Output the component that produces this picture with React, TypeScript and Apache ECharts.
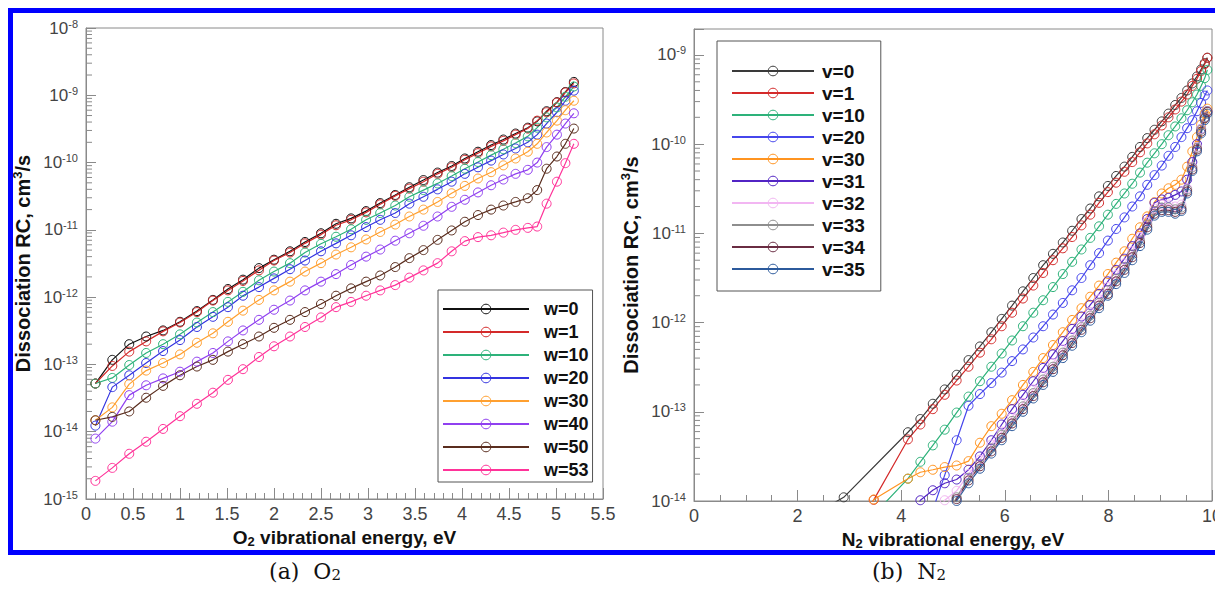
import { useEffect, useRef } from 'react';
import * as echarts from 'echarts';

const SANS = '"Liberation Sans", Arial, Helvetica, sans-serif';
const SERIF = '"DejaVu Serif", "Liberation Serif", serif';

// ---------- (a) O2 ----------
const O2_ENERGY = [0.10, 0.28, 0.46, 0.64, 0.82, 1.00, 1.18, 1.35, 1.51, 1.67, 1.84, 2.00, 2.17, 2.33, 2.50, 2.66, 2.82, 2.98, 3.13, 3.29, 3.44, 3.59, 3.74, 3.89, 4.03, 4.17, 4.31, 4.44, 4.57, 4.70, 4.80, 4.90, 5.01, 5.10, 5.19];
const O2_W0 = [5.2e-14, 1.17e-13, 2.0e-13, 2.6e-13, 3.2e-13, 4.3e-13, 6.2e-13, 9.1e-13, 1.32e-12, 1.82e-12, 2.7e-12, 3.6e-12, 4.8e-12, 6.6e-12, 8.9e-12, 1.23e-11, 1.48e-11, 1.9e-11, 2.5e-11, 3.3e-11, 4.3e-11, 5.5e-11, 7.1e-11, 8.9e-11, 1.15e-10, 1.45e-10, 1.82e-10, 2.2e-10, 2.7e-10, 3.3e-10, 4.1e-10, 5.8e-10, 7.9e-10, 1.12e-9, 1.58e-9];
const O2_W1 = [5.2e-14, 9.5e-14, 1.55e-13, 2.2e-13, 3.1e-13, 4.2e-13, 6.0e-13, 8.9e-13, 1.26e-12, 1.74e-12, 2.5e-12, 3.5e-12, 4.6e-12, 6.3e-12, 8.5e-12, 1.17e-11, 1.41e-11, 1.82e-11, 2.4e-11, 3.2e-11, 4.1e-11, 5.2e-11, 6.8e-11, 8.5e-11, 1.1e-10, 1.38e-10, 1.74e-10, 2.1e-10, 2.6e-10, 3.2e-10, 4.2e-10, 5.6e-10, 7.8e-10, 1.1e-9, 1.5e-9];
const O2_W10 = [5.2e-14, 6.3e-14, 9.8e-14, 1.48e-13, 2.0e-13, 2.8e-13, 4.2e-13, 6.0e-13, 8.5e-13, 1.2e-12, 1.78e-12, 2.4e-12, 3.2e-12, 4.6e-12, 6.2e-12, 7.9e-12, 1.02e-11, 1.41e-11, 1.78e-11, 2.3e-11, 3.1e-11, 3.9e-11, 4.9e-11, 6.3e-11, 8.1e-11, 1.02e-10, 1.29e-10, 1.58e-10, 1.95e-10, 2.45e-10, 3.3e-10, 4.7e-10, 6.6e-10, 9.5e-10, 1.35e-9];
const O2_W20 = [1.23e-14, 4.6e-14, 6.9e-14, 1.05e-13, 1.58e-13, 2.3e-13, 3.6e-13, 5.1e-13, 7.1e-13, 1.05e-12, 1.41e-12, 1.9e-12, 2.6e-12, 3.5e-12, 4.8e-12, 6.3e-12, 8.3e-12, 1.1e-11, 1.41e-11, 1.78e-11, 2.45e-11, 3.1e-11, 4.0e-11, 5.2e-11, 6.8e-11, 8.5e-11, 1.07e-10, 1.32e-10, 1.62e-10, 2.0e-10, 2.6e-10, 3.8e-10, 5.6e-10, 8.3e-10, 1.17e-9];
const O2_W30 = [1.48e-14, 2.3e-14, 5.1e-14, 8.1e-14, 1.05e-13, 1.41e-13, 2.1e-13, 2.9e-13, 4.3e-13, 6.3e-13, 9.1e-13, 1.26e-12, 1.7e-12, 2.4e-12, 3.2e-12, 4.3e-12, 5.5e-12, 7.2e-12, 9.3e-12, 1.2e-11, 1.58e-11, 2.0e-11, 2.6e-11, 3.5e-11, 4.5e-11, 5.8e-11, 7.2e-11, 9.1e-11, 1.15e-10, 1.45e-10, 1.9e-10, 2.8e-10, 4.2e-10, 6.0e-10, 8.3e-10];
const O2_W40 = [7.9e-15, 1.41e-14, 3.5e-14, 4.9e-14, 6.2e-14, 7.8e-14, 1.1e-13, 1.48e-13, 2.2e-13, 3.2e-13, 4.6e-13, 6.5e-13, 8.9e-13, 1.26e-12, 1.7e-12, 2.2e-12, 3.0e-12, 4.0e-12, 5.1e-12, 6.9e-12, 8.9e-12, 1.15e-11, 1.58e-11, 2.2e-11, 2.8e-11, 3.6e-11, 4.6e-11, 5.6e-11, 6.8e-11, 7.8e-11, 1.0e-10, 1.7e-10, 2.6e-10, 3.8e-10, 5.4e-10];
const O2_W50 = [1.48e-14, 1.66e-14, 2.0e-14, 3.2e-14, 4.8e-14, 6.9e-14, 9.3e-14, 1.17e-13, 1.55e-13, 2.0e-13, 2.6e-13, 3.5e-13, 4.6e-13, 6.0e-13, 7.9e-13, 1.05e-12, 1.35e-12, 1.7e-12, 2.1e-12, 2.8e-12, 3.8e-12, 5.0e-12, 7.1e-12, 9.8e-12, 1.32e-11, 1.66e-11, 2.0e-11, 2.3e-11, 2.6e-11, 2.95e-11, 3.9e-11, 8.1e-11, 1.23e-10, 1.9e-10, 3.2e-10];
const O2_W53 = [1.86e-15, 2.9e-15, 4.7e-15, 7.1e-15, 1.1e-14, 1.7e-14, 2.6e-14, 3.8e-14, 5.9e-14, 8.5e-14, 1.29e-13, 1.86e-13, 2.6e-13, 3.6e-13, 5.0e-13, 7.1e-13, 8.5e-13, 1.05e-12, 1.26e-12, 1.51e-12, 1.95e-12, 2.5e-12, 3.2e-12, 4.8e-12, 6.8e-12, 7.8e-12, 8.3e-12, 9.1e-12, 1.0e-11, 1.07e-11, 1.12e-11, 2.45e-11, 5.2e-11, 9.8e-11, 1.9e-10];
const O2_NAMES = ['w=0', 'w=1', 'w=10', 'w=20', 'w=30', 'w=40', 'w=50', 'w=53'];
const O2_VALUES = [O2_W0, O2_W1, O2_W10, O2_W20, O2_W30, O2_W40, O2_W50, O2_W53];
const O2_COLORS = ['#111111', '#d42a2a', '#2db27a', '#3434e0', '#ffa030', '#9040f0', '#5a2d1e', '#ff3399'];

// ---------- (b) N2 ----------
const N2_ENERGY = [1.57, 2.89, 3.47, 4.13, 4.37, 4.61, 4.84, 5.07, 5.30, 5.52, 5.74, 5.94, 6.14, 6.35, 6.55, 6.74, 6.93, 7.12, 7.30, 7.48, 7.65, 7.82, 7.99, 8.15, 8.31, 8.46, 8.61, 8.75, 8.89, 9.03, 9.16, 9.29, 9.41, 9.52, 9.62, 9.71, 9.79, 9.86, 9.91];
const N2_V0 = [4e-15, 1.1e-14, null, 5.9e-14, 8.3e-14, 1.23e-13, 1.78e-13, 2.6e-13, 3.8e-13, 5.4e-13, 7.8e-13, 1.1e-12, 1.55e-12, 2.24e-12, 3.16e-12, 4.4e-12, 5.9e-12, 7.9e-12, 1.07e-11, 1.45e-11, 1.9e-11, 2.6e-11, 3.4e-11, 4.4e-11, 5.6e-11, 7.2e-11, 9.3e-11, 1.17e-10, 1.45e-10, 1.8e-10, 2.2e-10, 2.75e-10, 3.3e-10, 4.0e-10, 4.8e-10, 5.75e-10, 6.9e-10, 8.1e-10, 9.3e-10];
const N2_V1 = [5e-16, 3e-15, 1.03e-14, 4.9e-14, 7.2e-14, 1.07e-13, 1.55e-13, 2.24e-13, 3.2e-13, 4.6e-13, 6.5e-13, 9.1e-13, 1.29e-12, 1.86e-12, 2.6e-12, 3.6e-12, 5.0e-12, 6.8e-12, 9.1e-12, 1.23e-11, 1.62e-11, 2.2e-11, 2.9e-11, 3.7e-11, 4.9e-11, 6.3e-11, 8.1e-11, 1.02e-10, 1.29e-10, 1.62e-10, 2.0e-10, 2.45e-10, 3.0e-10, 3.6e-10, 4.5e-10, 5.4e-10, 6.6e-10, 7.9e-10, 9.3e-10];
const N2_V10 = [1e-16, 1e-15, 7e-15, 1.78e-14, 2.75e-14, 4.2e-14, 6.3e-14, 9.8e-14, 1.48e-13, 2.2e-13, 3.2e-13, 4.5e-13, 6.3e-13, 9.1e-13, 1.29e-12, 1.78e-12, 2.5e-12, 3.5e-12, 4.8e-12, 6.6e-12, 8.9e-12, 1.2e-11, 1.62e-11, 2.14e-11, 2.8e-11, 3.6e-11, 4.8e-11, 6.2e-11, 7.9e-11, 1.0e-10, 1.26e-10, 1.58e-10, 1.95e-10, 2.4e-10, 2.95e-10, 3.6e-10, 4.5e-10, 5.5e-10, 6.8e-10];
const N2_V20 = [1e-17, 1e-16, 5e-16, 2e-15, 4e-15, 7.9e-15, 1.95e-14, 4.8e-14, 1.17e-13, 1.58e-13, 2.1e-13, 2.75e-13, 3.7e-13, 5.0e-13, 6.8e-13, 9.1e-13, 1.23e-12, 1.66e-12, 2.3e-12, 3.16e-12, 4.4e-12, 6.0e-12, 8.3e-12, 1.12e-11, 1.51e-11, 2.0e-11, 2.6e-11, 3.5e-11, 4.5e-11, 5.75e-11, 7.4e-11, 9.3e-11, 1.2e-10, 1.51e-10, 1.86e-10, 2.34e-10, 2.9e-10, 3.5e-10, 4.0e-10];
const N2_V30 = [1e-16, 2e-15, 1.04e-14, 1.78e-14, 2.1e-14, 2.24e-14, 2.4e-14, 2.5e-14, 2.8e-14, 4.5e-14, 6.9e-14, 9.5e-14, 1.35e-13, 2.0e-13, 2.8e-13, 4.0e-13, 5.6e-13, 7.8e-13, 1.07e-12, 1.45e-12, 1.95e-12, 2.6e-12, 3.5e-12, 4.7e-12, 6.3e-12, 8.7e-12, 1.17e-11, 1.55e-11, 2.24e-11, 2.8e-11, 3.2e-11, 3.5e-11, 4.0e-11, 5.6e-11, 8.3e-11, 1.2e-10, 1.66e-10, 2.2e-10, 2.5e-10];
const N2_V31 = [1e-17, 1e-16, 1e-15, 5e-15, 1.02e-14, 1.32e-14, 1.58e-14, 1.74e-14, 2.24e-14, 3.16e-14, 4.8e-14, 7.2e-14, 1.07e-13, 1.55e-13, 2.2e-13, 3.1e-13, 4.4e-13, 6.2e-13, 8.5e-13, 1.17e-12, 1.58e-12, 2.1e-12, 2.9e-12, 3.9e-12, 5.2e-12, 7.2e-12, 1.0e-11, 1.45e-11, 2.2e-11, 2.4e-11, 2.5e-11, 2.7e-11, 2.95e-11, 4.0e-11, 6.3e-11, 1.0e-10, 1.48e-10, 2.0e-10, 2.34e-10];
const N2_V32 = [1e-17, 1e-16, 1e-15, 2e-15, 3.5e-15, 5.5e-15, 1.02e-14, 1.3e-14, 2.0e-14, 2.9e-14, 4.3e-14, 6.0e-14, 8.7e-14, 1.26e-13, 1.78e-13, 2.5e-13, 3.5e-13, 5.0e-13, 6.9e-13, 9.8e-13, 1.32e-12, 1.82e-12, 2.5e-12, 3.4e-12, 4.6e-12, 6.3e-12, 9.1e-12, 1.35e-11, 1.9e-11, 2.1e-11, 2.1e-11, 2.0e-11, 2.1e-11, 3.2e-11, 5.6e-11, 9.3e-11, 1.48e-10, 2.0e-10, 2.34e-10];
const N2_V33 = [1e-17, 1e-16, 1e-15, 1.4e-15, 2.5e-15, 4e-15, 6.3e-15, 1.1e-14, 1.82e-14, 2.6e-14, 3.9e-14, 5.5e-14, 7.9e-14, 1.15e-13, 1.62e-13, 2.3e-13, 3.2e-13, 4.6e-13, 6.3e-13, 8.9e-13, 1.2e-12, 1.66e-12, 2.3e-12, 3.1e-12, 4.2e-12, 5.8e-12, 8.3e-12, 1.26e-11, 1.78e-11, 1.95e-11, 1.95e-11, 1.86e-11, 1.95e-11, 3.1e-11, 5.5e-11, 9.1e-11, 1.45e-10, 2.0e-10, 2.34e-10];
const N2_V34 = [1e-17, 1e-16, 1e-15, 1.2e-15, 2.2e-15, 3.5e-15, 5.5e-15, 1.05e-14, 1.7e-14, 2.45e-14, 3.6e-14, 5.1e-14, 7.4e-14, 1.07e-13, 1.5e-13, 2.14e-13, 3.0e-13, 4.3e-13, 5.9e-13, 8.3e-13, 1.12e-12, 1.55e-12, 2.1e-12, 2.9e-12, 3.9e-12, 5.4e-12, 7.8e-12, 1.17e-11, 1.66e-11, 1.82e-11, 1.82e-11, 1.74e-11, 1.86e-11, 2.95e-11, 5.2e-11, 8.7e-11, 1.38e-10, 1.95e-10, 2.3e-10];
const N2_V35 = [1e-17, 1e-16, 1e-15, 1e-15, 2e-15, 3e-15, 5e-15, 1.0e-14, 1.58e-14, 2.3e-14, 3.4e-14, 4.8e-14, 6.9e-14, 1.0e-13, 1.41e-13, 2.0e-13, 2.8e-13, 4.0e-13, 5.5e-13, 7.8e-13, 1.05e-12, 1.45e-12, 2.0e-12, 2.7e-12, 3.6e-12, 5.0e-12, 7.2e-12, 1.1e-11, 1.58e-11, 1.74e-11, 1.74e-11, 1.66e-11, 1.78e-11, 2.8e-11, 5.0e-11, 8.3e-11, 1.32e-10, 1.86e-10, 2.2e-10];
const N2_NAMES = ['v=0', 'v=1', 'v=10', 'v=20', 'v=30', 'v=31', 'v=32', 'v=33', 'v=34', 'v=35'];
const N2_VALUES = [N2_V0, N2_V1, N2_V10, N2_V20, N2_V30, N2_V31, N2_V32, N2_V33, N2_V34, N2_V35];
const N2_COLORS = ['#3a3a3a', '#d42a2a', '#2db27a', '#4646ec', '#ff9420', '#5224c4', '#f2b6f2', '#8e8e8e', '#6a2c42', '#2c5a9c'];

// axis ranges / ticks
const O2_Y_MIN = 1e-15;
const O2_Y_MAX = 1e-8;
const N2_Y_MIN = 1e-14;
const N2_Y_MAX = 1.954e-9;
const MINOR_MULTS = [2, 3, 4, 5, 6, 7, 8, 9];
const O2_DECADES = [-15, -14, -13, -12, -11, -10, -9];
const N2_DECADES = [-14, -13, -12, -11, -10, -9];

const AXIS_GRAY = '#8a8a8a';
const LABEL_GRAY = '#444444';

function minorValues(decades: number[], max: number) {
  const out: number[][] = [];
  decades.forEach((d) => MINOR_MULTS.forEach((m) => {
    const v = m * Math.pow(10, d);
    if (v < max) out.push([0, v]);
  }));
  return out;
}

function logLabel(v: number) {
  const l = Math.log10(v);
  const e = Math.round(l);
  if (Math.abs(l - e) > 1e-6) return '';
  return `{b|10}{s|${e}}`;
}

function yAxisCfg(gridIndex: number, min: number, max: number, split: number) {
  return {
    type: 'log', logBase: 10, gridIndex, min, max, splitNumber: split,
    name: '{t|Dissociation RC, cm}{u|3}{t|/s}',
    nameLocation: 'middle', nameGap: 52,
    nameTextStyle: {
      rich: {
        t: { fontSize: 20, fontWeight: 'bold', fontFamily: SANS, color: '#111' },
        u: { fontSize: 13, fontWeight: 'bold', fontFamily: SANS, color: '#111', padding: [0, 0, 10, 0] },
      },
    },
    axisLine: { show: true, lineStyle: { color: AXIS_GRAY, width: 1 } },
    axisTick: { show: true, inside: true, length: 10, lineStyle: { color: AXIS_GRAY } },
    minorTick: { show: false },
    splitLine: { show: false },
    axisLabel: {
      margin: 8, formatter: logLabel,
      rich: {
        b: { fontSize: 17, fontFamily: SANS, color: LABEL_GRAY },
        s: { fontSize: 11, fontFamily: SANS, color: LABEL_GRAY, padding: [0, 0, 9, 0] },
      },
    },
  };
}

function xAxisCfg(gridIndex: number, max: number, interval: number, minorSplit: number, mol: string) {
  return {
    type: 'value', gridIndex, min: 0, max, interval,
    name: `{t|${mol}}{d|2}{t| vibrational energy, eV}`,
    nameLocation: 'middle', nameGap: 24,
    nameTextStyle: {
      rich: {
        t: { fontSize: 19, fontWeight: 'bold', fontFamily: SANS, color: '#111' },
        d: { fontSize: 13, fontWeight: 'bold', fontFamily: SANS, color: '#111', padding: [9, 0, 0, 0] },
      },
    },
    axisLine: { show: true, lineStyle: { color: AXIS_GRAY, width: 1 } },
    axisTick: { show: true, inside: true, length: 11, lineStyle: { color: AXIS_GRAY } },
    minorTick: { show: true, splitNumber: minorSplit, length: 6, lineStyle: { color: AXIS_GRAY } },
    splitLine: { show: false },
    minorSplitLine: { show: false },
    axisLabel: { margin: 6, fontSize: 18, fontFamily: SANS, color: LABEL_GRAY },
  };
}

function lineSeries(name: string, xs: number[], ys: (number | null)[], color: string, idx: number) {
  return {
    type: 'line', name, xAxisIndex: idx, yAxisIndex: idx,
    data: xs.map((x, i) => [x, ys[i] === null ? '-' : ys[i]]),
    connectNulls: true,
    symbol: 'circle', symbolSize: 9, showSymbol: true,
    itemStyle: { color: 'rgba(255,255,255,0)', borderColor: color, borderWidth: 1 },
    lineStyle: { color, width: 1.2 },
    clip: true, silent: true,
    emphasis: { disabled: true },
  };
}

function minorTickSeries(idx: number, data: number[][]) {
  return {
    type: 'custom', xAxisIndex: idx, yAxisIndex: idx, data, silent: true,
    encode: { x: 0, y: 1 },
    renderItem: (_p: any, api: any) => {
      const pt = api.coord([api.value(0), api.value(1)]);
      return {
        type: 'line',
        shape: { x1: pt[0], y1: pt[1], x2: pt[0] + 6, y2: pt[1] },
        style: { stroke: AXIS_GRAY, lineWidth: 1 },
      };
    },
  };
}

function legendCfg(names: string[], left: number, top: number, itemWidth: number, gap: number, padding: number[], fontSize: number, textPad: number) {
  return {
    show: true, orient: 'vertical', left, top, data: names,
    itemWidth, itemHeight: 12, itemGap: gap, padding,
    borderColor: '#555', borderWidth: 1, backgroundColor: '#fff',
    selectedMode: false,
    itemStyle: { borderWidth: 1 },
    textStyle: { fontSize, fontWeight: 'bold', fontFamily: SANS, color: '#111', lineHeight: 20, padding: [0, 0, 0, textPad] },
  };
}

function caption(x: number, label: string, mol: string) {
  return {
    type: 'text', silent: true, x, y: 571,
    style: {
      text: `{a|${label}}{o|${mol}}{b|2}`, align: 'center', verticalAlign: 'middle',
      rich: {
        a: { fontSize: 22, fontFamily: SERIF, fill: '#111' },
        o: { fontSize: 22, fontFamily: SERIF, fill: '#111', padding: [0, 0, 0, 14] },
        b: { fontSize: 15, fontFamily: SERIF, fill: '#111', padding: [8, 0, 0, 0] },
      },
    },
  };
}

export default function App() {
  const ref = useRef<HTMLDivElement>(null);
  useEffect(() => {
    const chart = echarts.init(ref.current as HTMLDivElement, null, { renderer: 'svg' });
    const series: any[] = [];
    O2_NAMES.forEach((n, i) => series.push(lineSeries(n, O2_ENERGY, O2_VALUES[i], O2_COLORS[i], 0)));
    N2_NAMES.forEach((n, i) => series.push(lineSeries(n, N2_ENERGY, N2_VALUES[i], N2_COLORS[i], 1)));
    series.push(minorTickSeries(0, minorValues(O2_DECADES, O2_Y_MAX)));
    series.push(minorTickSeries(1, minorValues(N2_DECADES, N2_Y_MAX)));

    const option: any = {
      animation: false,
      backgroundColor: '#fff',
      grid: [
        { left: 86, top: 28, width: 517, height: 471, show: true, borderColor: AXIS_GRAY, borderWidth: 1, backgroundColor: 'transparent', containLabel: false, outerBoundsMode: 'none' },
        { left: 694, top: 29, width: 518, height: 472, show: true, borderColor: AXIS_GRAY, borderWidth: 1, backgroundColor: 'transparent', containLabel: false, outerBoundsMode: 'none' },
      ],
      xAxis: [xAxisCfg(0, 5.5, 0.5, 5, 'O'), xAxisCfg(1, 10, 2, 4, 'N')],
      yAxis: [yAxisCfg(0, O2_Y_MIN, O2_Y_MAX, 7), yAxisCfg(1, N2_Y_MIN, N2_Y_MAX, 5)],
      legend: [
        legendCfg(O2_NAMES, 438, 290, 86, 3, [9, 4, 2, 4], 18, 10),
        legendCfg(N2_NAMES, 717, 41, 82, 2, [20, 16, 12, 14], 19, 3),
      ],
      graphic: [
        { type: 'rect', silent: true, z: 100, shape: { x: 10.5, y: 10.5, width: 1230, height: 542 }, style: { fill: 'none', stroke: '#0000ff', lineWidth: 5 } },
        caption(305, '(a)', 'O'),
        caption(909, '(b)', 'N'),
      ],
      series,
    };
    chart.setOption(option);
    return () => chart.dispose();
  }, []);
  return <div ref={ref} style={{ position: 'fixed', left: 0, top: 0, width: 1215, height: 589, background: '#fff' }} />;
}
